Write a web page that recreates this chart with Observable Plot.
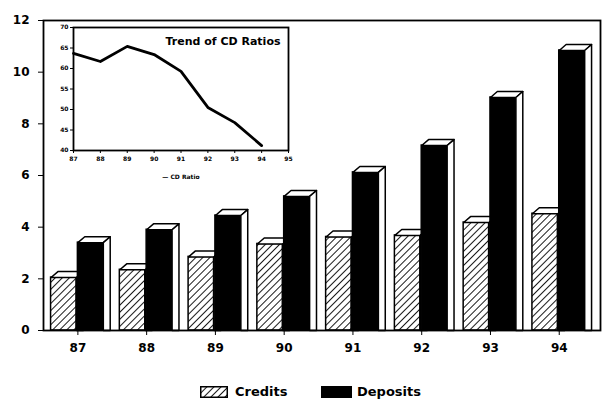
<!DOCTYPE html>
<html><head><meta charset="utf-8">
<script src="https://cdn.jsdelivr.net/npm/d3@7"></script>
<script src="https://cdn.jsdelivr.net/npm/@observablehq/plot@0.6"></script>
<style>
body{margin:0;background:#fff;}
#wrap{position:relative;width:603px;height:406px;font-family:"DejaVu Sans",sans-serif;color:#000;}
#main,#inset{position:absolute;left:0;top:0;}
#legend{position:absolute;left:0;top:384px;width:603px;height:18px;font:bold 13px "DejaVu Sans",sans-serif;}
#legend span{position:absolute;top:0;line-height:16px;}
</style></head><body>
<div id="wrap"><div id="main"></div><div id="inset"></div>
<div id="legend">
 <svg style="position:absolute;left:200px;top:2px" width="28" height="12">
  <defs><pattern id="hatchL" patternUnits="userSpaceOnUse" width="5" height="5" patternTransform="rotate(45)">
   <rect width="5" height="5" fill="white"/><line x1="0" y1="0" x2="0" y2="5" stroke="black" stroke-width="1.8"/></pattern></defs>
  <rect x="0.75" y="0.75" width="26.5" height="10.5" fill="url(#hatchL)" stroke="black" stroke-width="1.5"/>
 </svg>
 <span style="left:235px">Credits</span>
 <div style="position:absolute;left:321px;top:2px;width:31px;height:12px;background:#000"></div>
 <span style="left:357px">Deposits</span>
</div>
</div>
<script>
// ---- data ----
const years = [87, 88, 89, 90, 91, 92, 93, 94];
const credits = [2.05, 2.35, 2.85, 3.35, 3.62, 3.68, 4.18, 4.52];
const deposits = [3.4, 3.9, 4.45, 5.19, 6.12, 7.16, 9.02, 10.84];
const yTicks = [0, 2, 4, 6, 8, 10, 12];
const cdRatio = [63.7, 61.7, 65.4, 63.4, 59.3, 50.5, 46.8, 41.2];
const insetXTicks = [87, 88, 89, 90, 91, 92, 93, 94, 95];
const insetYTicks = [40, 45, 50, 55, 60, 65, 70];

// ---- geometry (3D depth expressed in data units) ----
const DX = 0.10, DY = 0.23;
function barRows(vals, a, b) {
  return years.map((yr, i) => ({year: yr, v: vals[i], x1: yr + a, x2: yr + b}));
}
function faces(rows) {
  const pts = [];
  rows.forEach((r, i) => {
    const top = [[r.x1, r.v], [r.x2, r.v], [r.x2 + DX, r.v + DY], [r.x1 + DX, r.v + DY], [r.x1, r.v]];
    const side = [[r.x2, 0], [r.x2, r.v], [r.x2 + DX, r.v + DY], [r.x2 + DX, 0], [r.x2, 0]];
    top.forEach(([x, y]) => pts.push({id: "t" + i, x, y}));
    side.forEach(([x, y]) => pts.push({id: "s" + i, x, y}));
  });
  return pts;
}
const cRows = barRows(credits, -0.39, -0.02);
const dRows = barRows(deposits, 0, 0.37);

const main = Plot.plot({
  width: 603, height: 360,
  marginLeft: 43, marginRight: 3, marginTop: 20, marginBottom: 30,
  x: {domain: [86.5, 94.6], ticks: years, tickSize: 5, tickPadding: 8, tickFormat: d => String(d), label: null},
  y: {domain: [0, 12], ticks: yTicks, tickSize: 5, tickPadding: 9, label: null},
  style: {fontFamily: "DejaVu Sans", fontSize: "12px", fontWeight: "bold", color: "black", background: "white"},
  marks: [
    Plot.rectY(cRows, {x1: "x1", x2: "x2", y1: 0, y2: "v", fill: "url(#hatch)", stroke: "black", strokeWidth: 1.5}),
    Plot.line(faces(cRows), {x: "x", y: "y", z: "id", fill: "white", stroke: "black", strokeWidth: 1.5, curve: "linear"}),
    Plot.rectY(dRows, {x1: "x1", x2: "x2", y1: 0, y2: "v", fill: "black", stroke: "black", strokeWidth: 1.5}),
    Plot.line(faces(dRows), {x: "x", y: "y", z: "id", fill: "white", stroke: "black", strokeWidth: 1.5, curve: "linear"}),
    Plot.frame({stroke: "black", strokeWidth: 1.8})
  ]
});
const defs = d3.select(main).insert("defs", ":first-child");
const pat = defs.append("pattern").attr("id", "hatch").attr("patternUnits", "userSpaceOnUse")
  .attr("width", 5).attr("height", 5).attr("patternTransform", "rotate(45)");
pat.append("rect").attr("width", 5).attr("height", 5).attr("fill", "white");
pat.append("line").attr("x1", 0).attr("y1", 0).attr("x2", 0).attr("y2", 5).attr("stroke", "black").attr("stroke-width", 1.8);
document.getElementById("main").appendChild(main);

const inset = Plot.plot({
  width: 300, height: 190,
  marginLeft: 73, marginRight: 12, marginTop: 27, marginBottom: 40,
  x: {domain: [87, 95], ticks: insetXTicks, tickSize: 3, tickPadding: 3, tickFormat: d => String(d), label: null},
  y: {domain: [40, 70], ticks: insetYTicks, tickSize: 3, tickPadding: 2, label: null},
  style: {fontFamily: "DejaVu Sans", fontSize: "6px", fontWeight: "bold", color: "black", background: "transparent", overflow: "visible"},
  marks: [
    Plot.frame({fill: "white", stroke: "black", strokeWidth: 1.8}),
    Plot.line(years.map((yr, i) => ({yr, r: cdRatio[i]})), {x: "yr", y: "r", stroke: "black", strokeWidth: 2.8}),
    Plot.text(["Trend of CD Ratios"], {frameAnchor: "top-right", dx: -8, dy: 10, fontSize: 11, fontWeight: "bold"}),
    Plot.text(["— CD Ratio"], {frameAnchor: "bottom", dy: 28, fontSize: 6, fontWeight: "bold"})
  ]
});
document.getElementById("inset").appendChild(inset);
</script>
</body></html>
